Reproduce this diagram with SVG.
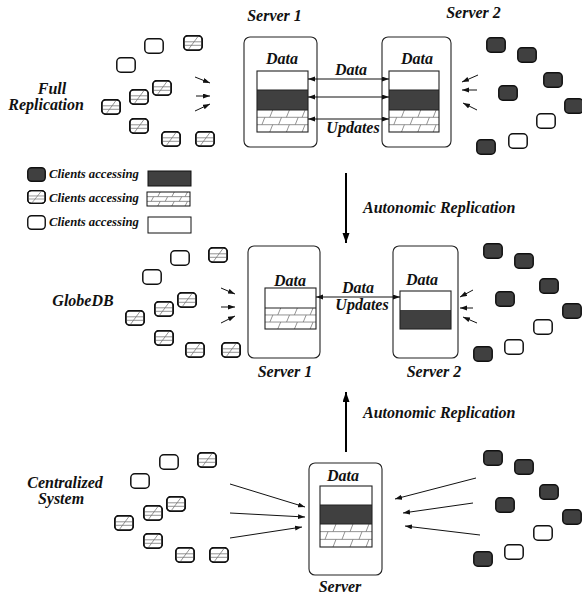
<svg xmlns="http://www.w3.org/2000/svg" xmlns:xlink="http://www.w3.org/1999/xlink" width="582" height="597" viewBox="0 0 582 597">
<style>
.t{font-family:"Liberation Serif","Times New Roman",serif;font-weight:bold;font-style:italic;font-size:16px;fill:#111}
.ts{font-family:"Liberation Serif","Times New Roman",serif;font-weight:bold;font-style:italic;font-size:12.7px;fill:#111}
.m{text-anchor:middle}
.box{fill:#fff;stroke:#222;stroke-width:1.1}
.blk{fill:none;stroke:#222;stroke-width:1.1}
.dk{fill:#404040}
.wh{fill:#fff}
.ca{stroke:#111;stroke-width:1;fill:none;marker-end:url(#ah)}
.da{stroke:#111;stroke-width:1;fill:none;marker-start:url(#ah2);marker-end:url(#ah2)}
.big{stroke:#000;stroke-width:2;fill:none;marker-end:url(#bh)}
</style>
<defs>
<marker id="ah" markerUnits="userSpaceOnUse" markerWidth="8" markerHeight="6" refX="7" refY="2.5" orient="auto"><path d="M0,0 L7,2.5 L0,5 z" fill="#111"/></marker>
<marker id="ah2" markerUnits="userSpaceOnUse" markerWidth="8" markerHeight="6" refX="7" refY="2.5" orient="auto-start-reverse"><path d="M0,0 L7,2.5 L0,5 z" fill="#111"/></marker>
<marker id="bh" markerUnits="userSpaceOnUse" markerWidth="8" markerHeight="12" refX="10" refY="3.5" orient="auto"><path d="M0,0 L10,3.5 L0,7 z" fill="#000"/></marker>
<symbol id="hatch" viewBox="0 0 52 22" preserveAspectRatio="none">
<rect x="0" y="0" width="52" height="22" fill="#fff"/>
<g stroke="#777" stroke-width="0.8" vector-effect="non-scaling-stroke" fill="none">
<path d="M0,7.3 H52 M0,14.7 H52" vector-effect="non-scaling-stroke"/>
<path d="M13,7.3 L16,0 M30,7.3 L33,0 M46,7.3 L49,0 M5,14.7 L8,7.3 M22,14.7 L25,7.3 M39,14.7 L42,7.3 M13,22 L16,14.7 M30,22 L33,14.7 M46,22 L49,14.7" vector-effect="non-scaling-stroke"/>
</g>
</symbol>
<symbol id="cw" viewBox="0 0 20 16" preserveAspectRatio="none">
<rect x="0.8" y="0.8" width="18.4" height="14.4" rx="4" fill="#fff" stroke="#111" stroke-width="1.5"/>
</symbol>
<symbol id="cd" viewBox="0 0 20 16" preserveAspectRatio="none">
<rect x="0.8" y="0.8" width="18.4" height="14.4" rx="4" fill="#404040" stroke="#111" stroke-width="1.5"/>
</symbol>
<symbol id="ch" viewBox="0 0 20 16" preserveAspectRatio="none">
<rect x="0.8" y="0.8" width="18.4" height="14.4" rx="4" fill="#fff" stroke="#111" stroke-width="1.5"/>
<path d="M1,6.8 H19 M1,10.3 H19 M5,15 L15,1.5" stroke="#777" stroke-width="0.8" fill="none"/>
<rect x="0.8" y="0.8" width="18.4" height="14.4" rx="4" fill="none" stroke="#111" stroke-width="1.5"/>
</symbol>
</defs>
<rect width="582" height="597" fill="#fff"/>

<!-- section labels -->
<g id="labels">
<text class="t m" x="52" y="94">Full</text>
<text class="t m" x="46" y="110">Replication</text>
<text class="t m" x="83" y="306">GlobeDB</text>
<text class="t m" x="65" y="488">Centralized</text>
<text class="t m" x="61" y="504">System</text>
<text class="t" x="363" y="213">Autonomic Replication</text>
<text class="t" x="363" y="418">Autonomic Replication</text>
</g>

<!-- Top: full replication -->
<g id="top-server1">
<text class="t m" x="274.5" y="21">Server 1</text>
<rect class="box" x="244" y="37" width="73" height="110" rx="6"/>
<text class="t m" x="282" y="64">Data</text>
<rect class="wh" x="257" y="71" width="51" height="19"/>
<rect class="dk" x="257" y="90" width="51" height="20"/>
<use xlink:href="#hatch" x="257" y="110" width="51" height="22"/>
<rect class="blk" x="257" y="71" width="51" height="61"/>
<path d="M257,90 H308 M257,110 H308" stroke="#222" stroke-width="1"/>
</g>
<g id="top-server2">
<text class="t m" x="473.5" y="18">Server 2</text>
<rect class="box" x="382" y="37" width="69" height="110" rx="6"/>
<text class="t m" x="417" y="64">Data</text>
<rect class="wh" x="389" y="71" width="50" height="19"/>
<rect class="dk" x="389" y="90" width="50" height="20"/>
<use xlink:href="#hatch" x="389" y="110" width="50" height="22"/>
<rect class="blk" x="389" y="71" width="50" height="61"/>
<path d="M389,90 H439 M389,110 H439" stroke="#222" stroke-width="1"/>
</g>
<g id="top-clients-left">
<use xlink:href="#cw" x="144" y="38" width="20" height="16"/>
<use xlink:href="#ch" x="183" y="35" width="20" height="16"/>
<use xlink:href="#cw" x="116" y="57" width="20" height="16"/>
<use xlink:href="#ch" x="152" y="80" width="20" height="16"/>
<use xlink:href="#ch" x="129" y="89" width="20" height="16"/>
<use xlink:href="#ch" x="101" y="99" width="20" height="16"/>
<use xlink:href="#ch" x="129" y="118" width="20" height="16"/>
<use xlink:href="#ch" x="161" y="131" width="20" height="16"/>
<use xlink:href="#ch" x="195" y="131" width="20" height="16"/>
</g>
<g id="top-clients-right">
<use xlink:href="#cd" x="486" y="37" width="20" height="16"/>
<use xlink:href="#cd" x="517" y="47" width="20" height="16"/>
<use xlink:href="#cd" x="543" y="72" width="20" height="16"/>
<use xlink:href="#cd" x="498" y="85" width="20" height="16"/>
<use xlink:href="#cd" x="564" y="98" width="20" height="16"/>
<use xlink:href="#cw" x="536" y="113" width="20" height="16"/>
<use xlink:href="#cw" x="508" y="133" width="20" height="16"/>
<use xlink:href="#cd" x="476" y="139" width="20" height="16"/>
</g>

<!-- Legend -->
<g id="legend">
<use xlink:href="#cd" x="27" y="167" width="19" height="15"/>
<text class="ts" x="49" y="178">Clients accessing</text>
<rect x="148" y="171" width="43" height="15" fill="#404040" stroke="#111" stroke-width="1"/>
<use xlink:href="#ch" x="27" y="190" width="19" height="14"/>
<text class="ts" x="49" y="202">Clients accessing</text>
<use xlink:href="#hatch" x="147" y="192" width="43" height="14"/>
<rect x="147" y="192" width="43" height="14" fill="none" stroke="#111" stroke-width="1"/>
<use xlink:href="#cw" x="27" y="215" width="19" height="15"/>
<text class="ts" x="49" y="226">Clients accessing</text>
<rect x="148" y="217" width="43" height="16" fill="#fff" stroke="#111" stroke-width="1"/>
</g>

<!-- Middle: GlobeDB -->
<g id="mid-server1">
<rect class="box" x="248" y="246" width="72" height="112" rx="6"/>
<text class="t m" x="290" y="286">Data</text>
<rect class="wh" x="265" y="288" width="51" height="20"/>
<use xlink:href="#hatch" x="265" y="308" width="51" height="21"/>
<rect class="blk" x="265" y="288" width="51" height="41"/>
<path d="M265,308 H316" stroke="#222" stroke-width="1"/>
<text class="t m" x="285" y="377">Server 1</text>
</g>
<g id="mid-server2">
<rect class="box" x="393" y="246" width="65" height="112" rx="6"/>
<text class="t m" x="422" y="285">Data</text>
<rect class="wh" x="400" y="291" width="51" height="19"/>
<rect class="dk" x="400" y="310" width="51" height="19"/>
<rect class="blk" x="400" y="291" width="51" height="38"/>
<text class="t m" x="434" y="377">Server 2</text>
</g>
<g id="mid-clients-left">
<use xlink:href="#cw" x="170" y="250" width="20" height="16"/>
<use xlink:href="#ch" x="208" y="247" width="20" height="16"/>
<use xlink:href="#cw" x="142" y="269" width="20" height="16"/>
<use xlink:href="#ch" x="177" y="292" width="20" height="16"/>
<use xlink:href="#ch" x="154" y="301" width="20" height="16"/>
<use xlink:href="#ch" x="125" y="310" width="20" height="16"/>
<use xlink:href="#ch" x="154" y="330" width="20" height="16"/>
<use xlink:href="#ch" x="185" y="342" width="20" height="16"/>
<use xlink:href="#ch" x="221" y="342" width="20" height="16"/>
</g>
<g id="mid-clients-right">
<use xlink:href="#cd" x="483" y="243" width="20" height="16"/>
<use xlink:href="#cd" x="514" y="253" width="20" height="16"/>
<use xlink:href="#cd" x="539" y="278" width="20" height="16"/>
<use xlink:href="#cd" x="495" y="291" width="20" height="16"/>
<use xlink:href="#cd" x="562" y="303" width="20" height="16"/>
<use xlink:href="#cw" x="533" y="319" width="20" height="16"/>
<use xlink:href="#cw" x="504" y="339" width="20" height="16"/>
<use xlink:href="#cd" x="473" y="346" width="20" height="16"/>
</g>

<!-- Bottom: centralized -->
<g id="bottom-server">
<rect class="box" x="309" y="463" width="73" height="112" rx="6"/>
<text class="t m" x="343" y="481">Data</text>
<rect class="wh" x="320" y="486" width="52" height="19"/>
<rect class="dk" x="320" y="505" width="52" height="19"/>
<use xlink:href="#hatch" x="320" y="524" width="52" height="23"/>
<rect class="blk" x="320" y="486" width="52" height="61"/>
<path d="M320,505 H372 M320,524 H372" stroke="#222" stroke-width="1"/>
<text class="t m" x="340" y="592">Server</text>
</g>
<g id="bottom-clients-left">
<use xlink:href="#cw" x="159" y="454" width="20" height="16"/>
<use xlink:href="#ch" x="197" y="452" width="20" height="16"/>
<use xlink:href="#cw" x="130" y="473" width="20" height="16"/>
<use xlink:href="#ch" x="166" y="496" width="20" height="16"/>
<use xlink:href="#ch" x="143" y="505" width="20" height="16"/>
<use xlink:href="#ch" x="114" y="515" width="20" height="16"/>
<use xlink:href="#ch" x="143" y="533" width="20" height="16"/>
<use xlink:href="#ch" x="175" y="547" width="20" height="16"/>
<use xlink:href="#ch" x="209" y="547" width="20" height="16"/>
</g>
<g id="bottom-clients-right">
<use xlink:href="#cd" x="483" y="450" width="20" height="16"/>
<use xlink:href="#cd" x="514" y="459" width="20" height="16"/>
<use xlink:href="#cd" x="539" y="484" width="20" height="16"/>
<use xlink:href="#cd" x="495" y="497" width="20" height="16"/>
<use xlink:href="#cd" x="562" y="509" width="20" height="16"/>
<use xlink:href="#cw" x="533" y="525" width="20" height="16"/>
<use xlink:href="#cw" x="504" y="544" width="20" height="16"/>
<use xlink:href="#cd" x="473" y="551" width="20" height="16"/>
</g>

<!-- Connectors -->
<g id="connectors">
<line class="da" x1="308" y1="79" x2="389" y2="79"/>
<line class="da" x1="308" y1="97" x2="389" y2="97"/>
<line class="da" x1="308" y1="119" x2="389" y2="119"/>
<text class="t m" x="351" y="75">Data</text>
<text class="t m" x="353" y="133">Updates</text>
<path class="ca" d="M195,77 L210,83"/>
<path class="ca" d="M196,96 L210,96"/>
<path class="ca" d="M195,111 L210,104"/>
<path class="ca" d="M478,75 L462,82"/>
<path class="ca" d="M477,90 L462,90"/>
<path class="ca" d="M477,110 L463,103"/>

<line class="big" x1="346" y1="173" x2="346" y2="243"/>

<line class="da" x1="316" y1="297" x2="400" y2="297"/>
<text class="t m" x="358" y="293">Data</text>
<text class="t m" x="362" y="310">Updates</text>
<path class="ca" d="M221,288 L235,294"/>
<path class="ca" d="M221,307 L235,307"/>
<path class="ca" d="M221,323 L235,316"/>
<path class="ca" d="M473,290 L460,297"/>
<path class="ca" d="M473,308 L460,308"/>
<path class="ca" d="M477,323 L463,317"/>

<line class="big" x1="346" y1="452" x2="346" y2="392"/>

<path class="ca" d="M230,484 L305,507"/>
<path class="ca" d="M230,513 L305,517"/>
<path class="ca" d="M230,538 L302,527"/>
<path class="ca" d="M476,478 L395,499"/>
<path class="ca" d="M473,503 L403,513"/>
<path class="ca" d="M480,535 L405,526"/>
</g>
</svg>
